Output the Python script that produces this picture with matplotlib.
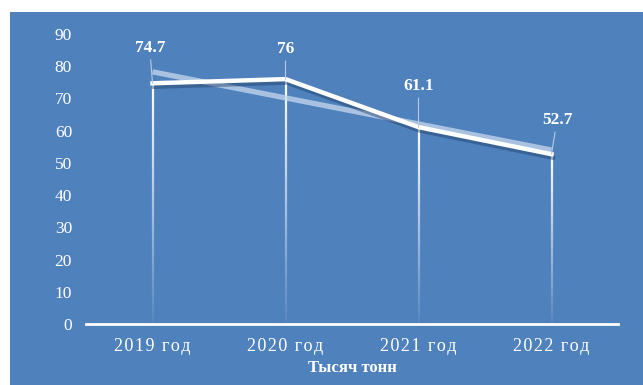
import numpy as np
import matplotlib
matplotlib.use("Agg")
import matplotlib.pyplot as plt
from matplotlib.patches import Rectangle
from matplotlib.collections import LineCollection
import matplotlib.patheffects as pe

years = ["2019 год", "2020 год", "2021 год", "2022 год"]
values = [74.7, 76, 61.1, 52.7]
value_labels = ["74.7", "76", "61.1", "52.7"]
y_ticks = [0, 10, 20, 30, 40, 50, 60, 70, 80, 90]
x_title = "Тысяч тонн"

# label offsets in points (layout only)
label_offsets = [(-2, 20), (0, 16), (0, 24), (4, 19)]

bg = "#4f81bd"
plt.rcParams["font.family"] = ["Liberation Serif", "DejaVu Serif"]


def spaced(s):
    # the original tick labels are letter-spaced
    return "\u200a".join(s)


fig = plt.figure(figsize=(6.43, 3.85), dpi=100)
fig.patch.set_facecolor("white")
fig.add_artist(Rectangle((10 / 643, 0), 1, (385 - 12) / 385,
                         transform=fig.transFigure, facecolor=bg,
                         edgecolor="none", zorder=-10))

ax = fig.add_axes([86 / 643, (385 - 324) / 385, (618 - 86) / 643, (324 - 34) / 385])
ax.set_zorder(5)
ax.set_facecolor("none")
x = np.arange(len(values))

# drop lines fading toward the axis
n = 60
for xi, v in zip(x, values):
    ys = np.linspace(v, 0, n + 1)
    segs = [[(xi, ys[k]), (xi, ys[k + 1])] for k in range(n)]
    alphas = np.linspace(1.0, 0.05, n)
    cols = [(1, 1, 1, a) for a in alphas]
    ax.add_collection(LineCollection(segs, colors=cols, linewidths=1.6, zorder=2))

# linear trend
coef = np.polyfit(x, values, 1)
ax.plot(x, np.polyval(coef, x), color="#c9d9ef", alpha=0.75, lw=3.8,
        solid_capstyle="butt", zorder=3)

# main line with shadow
ax.plot(x, values, color="white", lw=3.2, zorder=4,
        path_effects=[pe.SimpleLineShadow(offset=(1, -2.5), shadow_color="#1f3d66", alpha=0.45),
                      pe.Normal()])

for xi, v, lab, off in zip(x, values, value_labels, label_offsets):
    ax.annotate(lab, (xi, v), xytext=off, textcoords="offset points",
                ha="center", va="bottom", color="white", fontsize=12.5,
                fontweight="bold", zorder=5,
                arrowprops=dict(arrowstyle="-", color="#b8cbe3", lw=0.8,
                                shrinkA=1, shrinkB=0))

ax.set_xlim(-0.5, 3.5)
ax.set_ylim(0, 90)
ax.set_yticks(y_ticks)
ax.set_xticks(x)
ax.set_xticklabels([spaced(y) for y in years])
ax.tick_params(axis="y", length=0, pad=10, labelcolor="white", labelsize=12.5)
ax.tick_params(axis="x", length=0, pad=10, labelcolor="white", labelsize=13)
for s in ["top", "right", "left"]:
    ax.spines[s].set_visible(False)
ax.spines["bottom"].set_color("white")
ax.spines["bottom"].set_linewidth(2)
ax.spines["bottom"].set_zorder(6)
ax.set_xlabel(x_title, color="white", fontsize=12, fontweight="bold", labelpad=4)

fig.savefig("out.png", dpi=100)
